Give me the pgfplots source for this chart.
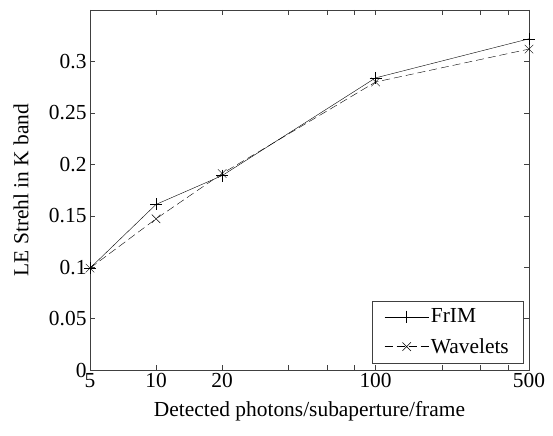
\documentclass[border=0pt]{standalone}
\usepackage{fontspec}
\setmainfont{Liberation Serif}
\usepackage{pgfplots}
\pgfplotsset{compat=1.18}

\begin{document}
\begin{tikzpicture}
\begin{axis}[
    scale only axis,
    width=439bp, height=360bp,
    xmode=log,
    xmin=5, xmax=500,
    ymin=0, ymax=0.35,
    xtick={5,10,20,40,60,80,100,200,300,400,500},
    xticklabels={5,10,20,,,,100,,,,500},
    minor xtick={},
    ytick={0,0.05,0.1,0.15,0.2,0.25,0.3},
    yticklabels={0,0.05,0.1,0.15,0.2,0.25,0.3},
    tick align=inside,
    major tick length=5bp,
    axis line style={black!75},
    tick style={black!75},
    tick label style={font=\fontsize{21.5}{23}\selectfont},
    label style={font=\fontsize{21.5}{23}\selectfont},
    xlabel={Detected photons/subaperture/frame},
    ylabel={LE Strehl in K band},
    x label style={at={(axis description cs:0.5,0)}, anchor=center, yshift=-41bp},
    y label style={at={(axis description cs:0,0.5)}, anchor=center, rotate=0, yshift=69bp},
    legend cell align=left,
    legend style={font=\fontsize{21.5}{23}\selectfont, draw=black!75,
        at={(1,0)}, anchor=south east, xshift=-6bp, yshift=7bp,
        inner xsep=12bp, inner ysep=6bp, row sep=10bp},
    legend image code/.code={
        \draw[mark repeat=2, mark phase=2, #1] plot coordinates {(0bp,0bp) (22bp,0bp) (44bp,0bp)};
    },
    /pgf/number format/assume math mode=true,
]
\addplot[black, thin, mark=+, mark size=6bp] coordinates {
  (5,0.099) (10,0.161) (20,0.189) (100,0.284) (500,0.322)
};
\addlegendentry{FrIM}
\addplot[black, thin, dash pattern=on 8bp off 4bp, mark=x, mark size=6bp, mark options={solid}] coordinates {
  (5,0.099) (10,0.147) (20,0.191) (100,0.280) (500,0.312)
};
\addlegendentry{Wavelets}
\end{axis}
\pgfresetboundingbox
\path (current axis.south west) ++(-90bp,-66bp) rectangle ++(553bp,436bp);
\end{tikzpicture}
\end{document}
